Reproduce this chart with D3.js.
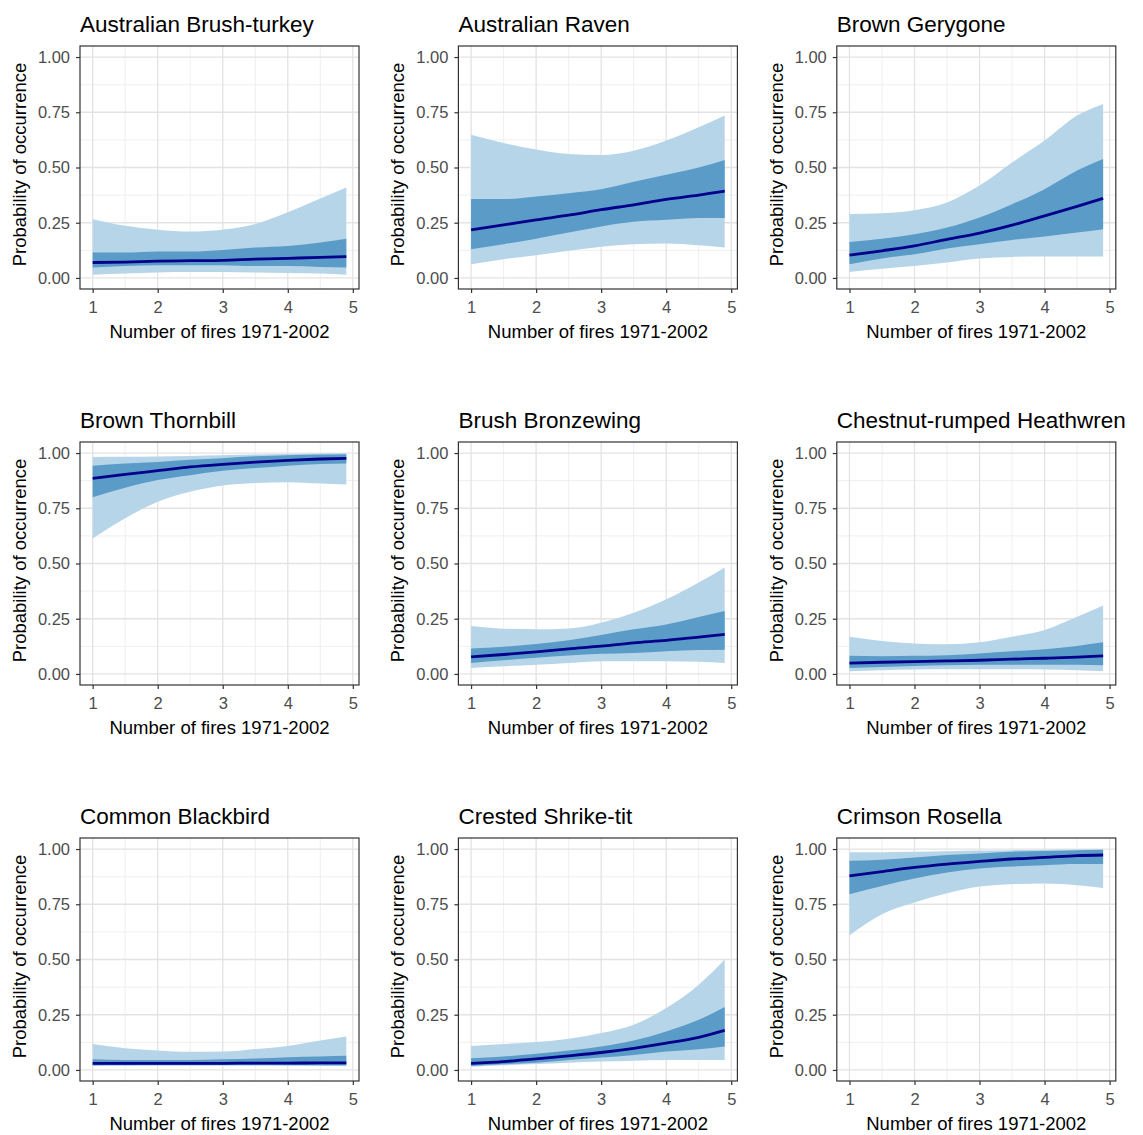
<!DOCTYPE html>
<html>
<head>
<meta charset="utf-8">
<title>Probability of occurrence vs number of fires</title>
<script src="https://d3js.org/d3.v7.min.js"></script>
<style>
  body { margin: 0; background: #fff; }
  svg text { font-family: "Liberation Sans", Arial, sans-serif; }
</style>
</head>
<body>
<script>
// species shown, one panel each
var species = ["Australian Brush-turkey", "Australian Raven", "Brown Gerygone",
               "Brown Thornbill", "Brush Bronzewing", "Chestnut-rumped Heathwren",
               "Common Blackbird", "Crested Shrike-tit", "Crimson Rosella"];

// x positions the values were read at
var fires = [1, 1.5, 2, 2.5, 3, 3.5, 4, 4.5, 4.9];

var xTicks = [1, 2, 3, 4, 5];
var yTicks = [0, 0.25, 0.5, 0.75, 1];
var xMinor = [1.5, 2.5, 3.5, 4.5];
var yMinor = [0.125, 0.375, 0.625, 0.875];

// fitted probability (dark line)
var fit = [
  [0.070, 0.072, 0.076, 0.078, 0.080, 0.085, 0.089, 0.093, 0.097],
  [0.218, 0.240, 0.263, 0.284, 0.309, 0.331, 0.356, 0.375, 0.393],
  [0.103, 0.123, 0.145, 0.175, 0.203, 0.239, 0.281, 0.324, 0.360],
  [0.885, 0.903, 0.920, 0.937, 0.949, 0.959, 0.967, 0.973, 0.976],
  [0.077, 0.088, 0.100, 0.114, 0.126, 0.141, 0.152, 0.167, 0.179],
  [0.049, 0.053, 0.056, 0.059, 0.062, 0.067, 0.071, 0.076, 0.082],
  [0.030, 0.030, 0.030, 0.030, 0.030, 0.031, 0.031, 0.032, 0.032],
  [0.030, 0.038, 0.050, 0.064, 0.079, 0.098, 0.121, 0.148, 0.179],
  [0.879, 0.898, 0.917, 0.932, 0.944, 0.955, 0.962, 0.970, 0.973]
];

// inner band (darker blue)
var innerLo = [
  [0.047, 0.054, 0.057, 0.058, 0.058, 0.054, 0.054, 0.050, 0.047],
  [0.130, 0.153, 0.178, 0.206, 0.233, 0.254, 0.263, 0.271, 0.271],
  [0.062, 0.088, 0.107, 0.133, 0.153, 0.172, 0.188, 0.206, 0.221],
  [0.800, 0.843, 0.878, 0.900, 0.920, 0.932, 0.943, 0.950, 0.953],
  [0.050, 0.062, 0.073, 0.083, 0.091, 0.095, 0.103, 0.108, 0.110],
  [0.027, 0.032, 0.036, 0.039, 0.042, 0.042, 0.042, 0.042, 0.039],
  [0.021, 0.022, 0.022, 0.022, 0.022, 0.022, 0.022, 0.021, 0.021],
  [0.018, 0.026, 0.033, 0.045, 0.056, 0.068, 0.083, 0.094, 0.106],
  [0.795, 0.833, 0.867, 0.894, 0.912, 0.921, 0.927, 0.932, 0.932]
];
var innerHi = [
  [0.115, 0.115, 0.120, 0.120, 0.127, 0.138, 0.145, 0.160, 0.178],
  [0.357, 0.357, 0.369, 0.384, 0.402, 0.436, 0.467, 0.500, 0.534],
  [0.163, 0.178, 0.198, 0.228, 0.274, 0.334, 0.402, 0.486, 0.539],
  [0.943, 0.953, 0.960, 0.970, 0.977, 0.985, 0.990, 0.993, 0.995],
  [0.115, 0.123, 0.136, 0.153, 0.176, 0.202, 0.224, 0.258, 0.285],
  [0.082, 0.080, 0.082, 0.085, 0.093, 0.103, 0.112, 0.127, 0.143],
  [0.048, 0.045, 0.045, 0.045, 0.048, 0.052, 0.058, 0.061, 0.064],
  [0.053, 0.061, 0.073, 0.088, 0.106, 0.133, 0.174, 0.227, 0.285],
  [0.947, 0.952, 0.962, 0.973, 0.980, 0.988, 0.991, 0.995, 0.997]
];

// outer band (light blue)
var outerLo = [
  [0.015, 0.020, 0.025, 0.027, 0.027, 0.025, 0.022, 0.020, 0.015],
  [0.062, 0.085, 0.103, 0.123, 0.141, 0.153, 0.156, 0.148, 0.138],
  [0.027, 0.042, 0.054, 0.070, 0.088, 0.095, 0.097, 0.097, 0.097],
  [0.613, 0.705, 0.780, 0.825, 0.853, 0.864, 0.868, 0.862, 0.858],
  [0.027, 0.035, 0.042, 0.050, 0.058, 0.058, 0.058, 0.055, 0.050],
  [0.012, 0.017, 0.020, 0.021, 0.021, 0.021, 0.020, 0.017, 0.012],
  [0.018, 0.018, 0.019, 0.019, 0.019, 0.019, 0.018, 0.018, 0.017],
  [0.015, 0.021, 0.027, 0.033, 0.038, 0.042, 0.045, 0.045, 0.045],
  [0.609, 0.705, 0.758, 0.800, 0.830, 0.841, 0.844, 0.836, 0.824]
];
var outerHi = [
  [0.266, 0.236, 0.218, 0.210, 0.218, 0.244, 0.297, 0.360, 0.410],
  [0.648, 0.611, 0.581, 0.561, 0.557, 0.576, 0.622, 0.682, 0.735],
  [0.289, 0.293, 0.307, 0.342, 0.418, 0.523, 0.622, 0.735, 0.788],
  [0.982, 0.983, 0.984, 0.987, 0.990, 0.993, 0.996, 0.998, 0.999],
  [0.217, 0.205, 0.202, 0.206, 0.232, 0.277, 0.338, 0.414, 0.482],
  [0.168, 0.149, 0.138, 0.134, 0.143, 0.168, 0.199, 0.259, 0.310],
  [0.117, 0.098, 0.088, 0.082, 0.083, 0.095, 0.109, 0.133, 0.152],
  [0.109, 0.117, 0.126, 0.141, 0.167, 0.205, 0.280, 0.386, 0.500],
  [0.985, 0.986, 0.988, 0.990, 0.993, 0.995, 0.997, 0.998, 0.999]
];

var W = 1143, H = 1135;
var panelW = 279, panelH = 243;
var left0 = 80, top0 = 46, colStep = 378.4, rowStep = 396;

var svg = d3.select("body").append("svg")
    .attr("width", W)
    .attr("height", H);

svg.append("rect").attr("width", W).attr("height", H).attr("fill", "#fff");

var x = d3.scaleLinear().domain([0.805, 5.095]).range([0, panelW]);
var y = d3.scaleLinear().domain([-0.05, 1.05]).range([panelH, 0]);

species.forEach(function(name, i) {
    var col = i % 3, row = Math.floor(i / 3);
    var g = svg.append("g")
        .attr("transform", "translate(" + (left0 + col * colStep) + "," + (top0 + row * rowStep) + ")");

    var pts = fires.map(function(f, j) {
        return { x: f, m: fit[i][j], il: innerLo[i][j], ih: innerHi[i][j], ol: outerLo[i][j], oh: outerHi[i][j] };
    });

    // grid, minor first
    g.selectAll(".ymin").data(yMinor).enter().append("line")
        .attr("x1", 0).attr("x2", panelW)
        .attr("y1", y).attr("y2", y)
        .attr("stroke", "#ebebeb").attr("stroke-width", 0.8);
    g.selectAll(".xmin").data(xMinor).enter().append("line")
        .attr("y1", 0).attr("y2", panelH)
        .attr("x1", x).attr("x2", x)
        .attr("stroke", "#ebebeb").attr("stroke-width", 0.8);
    g.selectAll(".ymaj").data(yTicks).enter().append("line")
        .attr("x1", 0).attr("x2", panelW)
        .attr("y1", y).attr("y2", y)
        .attr("stroke", "#e3e3e3").attr("stroke-width", 1.3);
    g.selectAll(".xmaj").data(xTicks).enter().append("line")
        .attr("y1", 0).attr("y2", panelH)
        .attr("x1", x).attr("x2", x)
        .attr("stroke", "#e3e3e3").attr("stroke-width", 1.3);

    var outer = d3.area().curve(d3.curveMonotoneX)
        .x(function(d) { return x(d.x); })
        .y0(function(d) { return y(d.ol); })
        .y1(function(d) { return y(d.oh); });
    var inner = d3.area().curve(d3.curveMonotoneX)
        .x(function(d) { return x(d.x); })
        .y0(function(d) { return y(d.il); })
        .y1(function(d) { return y(d.ih); });
    var line = d3.line().curve(d3.curveMonotoneX)
        .x(function(d) { return x(d.x); })
        .y(function(d) { return y(d.m); });

    g.append("path").datum(pts).attr("d", outer).attr("fill", "#b7d5e8");
    g.append("path").datum(pts).attr("d", inner).attr("fill", "#5a9bc8");
    g.append("path").datum(pts).attr("d", line)
        .attr("fill", "none").attr("stroke", "#00008b").attr("stroke-width", 2.8);

    // panel border
    g.append("rect")
        .attr("width", panelW).attr("height", panelH)
        .attr("fill", "none").attr("stroke", "#333").attr("stroke-width", 1.2);

    // axes
    var xAxis = g.append("g").attr("transform", "translate(0," + panelH + ")")
        .call(d3.axisBottom(x).tickValues(xTicks).tickFormat(d3.format("d")).tickSizeOuter(0).tickSize(4).tickPadding(8));
    var yAxis = g.append("g")
        .call(d3.axisLeft(y).tickValues(yTicks).tickFormat(d3.format(".2f")).tickSizeOuter(0).tickSize(4).tickPadding(6));
    [xAxis, yAxis].forEach(function(a) {
        a.select(".domain").remove();
        a.selectAll(".tick line").attr("stroke", "#333").attr("stroke-width", 1.2);
        a.selectAll(".tick text").attr("fill", "#4d4d4d")
            .style("font-size", "16.5px").style("font-family", "'Liberation Sans', Arial, sans-serif");
    });

    // titles
    g.append("text")
        .attr("x", 0).attr("y", -14)
        .style("font-size", "22.5px").attr("fill", "#000")
        .text(name);
    g.append("text")
        .attr("x", panelW / 2).attr("y", panelH + 49)
        .attr("text-anchor", "middle")
        .style("font-size", "18.5px").attr("fill", "#000")
        .text("Number of fires 1971-2002");
    g.append("text")
        .attr("transform", "translate(-54," + (panelH / 2 - 3) + ") rotate(-90)")
        .attr("text-anchor", "middle")
        .style("font-size", "18.5px").attr("fill", "#000")
        .text("Probability of occurrence");
});
</script>
</body>
</html>
